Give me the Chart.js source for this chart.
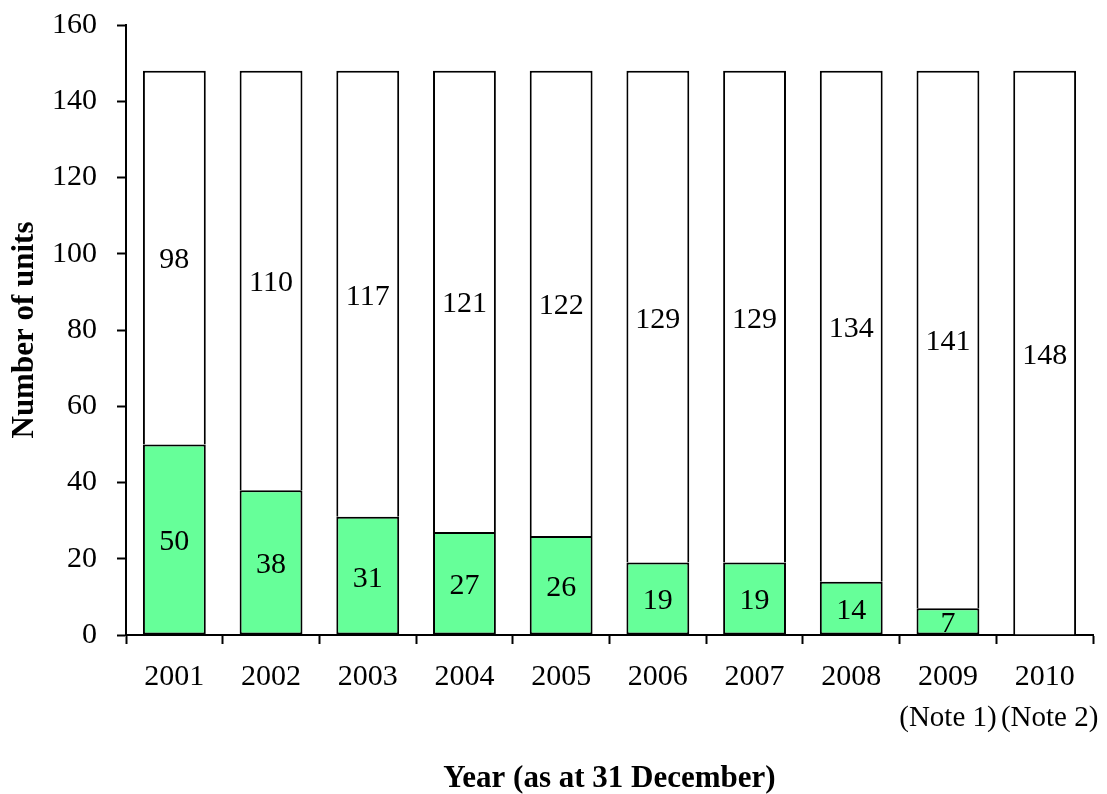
<!DOCTYPE html>
<html>
<head>
<meta charset="utf-8">
<script src="https://cdn.jsdelivr.net/npm/chart.js@4/dist/chart.umd.min.js"></script>
<style>
  html, body { margin: 0; padding: 0; background: #fff; }
  #wrap { width: 1107px; height: 794px; }
</style>
</head>
<body>
<div id="wrap"><canvas id="chart" width="1107" height="794"></canvas></div>
<script>
// years along the bottom, notes go on a second line
const years = ["2001", "2002", "2003", "2004", "2005", "2006", "2007", "2008", "2009", "2010"];
const notes = ["", "", "", "", "", "", "", "", "(Note 1)", "(Note 2)"];
// green (lower) and white (upper) parts of each bar
const greenUnits = [50, 38, 31, 27, 26, 19, 19, 14, 7, 0];
const whiteUnits = [98, 110, 117, 121, 122, 129, 129, 134, 141, 148];
const yTicks = [0, 20, 40, 60, 80, 100, 120, 140, 160];

const serif = "'Liberation Serif', 'Times New Roman', serif";

// numbers in the middle of every segment
const segmentLabels = {
  id: "segmentLabels",
  afterDatasetsDraw(chart) {
    const ctx = chart.ctx;
    ctx.save();
    ctx.font = "30px " + serif;
    ctx.fillStyle = "#000";
    ctx.textAlign = "center";
    ctx.textBaseline = "middle";
    chart.data.datasets.forEach((ds, i) => {
      const meta = chart.getDatasetMeta(i);
      meta.data.forEach((bar, j) => {
        const v = ds.data[j];
        if (!v) return;
        const p = bar.getProps(["x", "y", "base"], true);
        ctx.fillText(String(v), p.x, (p.y + p.base) / 2 + 3);
      });
    });
    ctx.restore();
  }
};

// the "(Note n)" line under a year, a bit smaller than the year itself
const yearNotes = {
  id: "yearNotes",
  afterDraw(chart) {
    const ctx = chart.ctx;
    const xs = chart.scales.x;
    ctx.save();
    ctx.font = "29px " + serif;
    ctx.fillStyle = "#000";
    ctx.textAlign = "center";
    ctx.textBaseline = "middle";
    notes.forEach((n, i) => {
      if (!n) return;
      ctx.fillText(n, xs.getPixelForValue(i) + (i === notes.length - 1 ? 5 : 0), 718);
    });
    ctx.restore();
  }
};

new Chart(document.getElementById("chart"), {
  type: "bar",
  data: {
    labels: years,
    datasets: [
      {
        label: "green",
        data: greenUnits,
        backgroundColor: "#66FF99",
        borderColor: "#000",
        borderWidth: (c) => (c.raw ? 2 : 0),
        borderSkipped: false,
        barPercentage: 0.65,
        categoryPercentage: 1
      },
      {
        label: "white",
        data: whiteUnits,
        backgroundColor: "#fff",
        borderColor: "#000",
        borderWidth: 2,
        borderSkipped: "bottom",
        barPercentage: 0.65,
        categoryPercentage: 1
      }
    ]
  },
  options: {
    responsive: false,
    animation: false,
    layout: { padding: { top: 25, right: 14, bottom: 0, left: 0 } },
    plugins: {
      legend: { display: false },
      tooltip: { enabled: false }
    },
    scales: {
      x: {
        stacked: true,
        grid: {
          offset: true,
          drawOnChartArea: false,
          drawTicks: true,
          tickLength: 9,
          tickWidth: 2,
          tickColor: "#000"
        },
        border: { color: "#000", width: 2 },
        ticks: {
          color: "#000",
          padding: 14,
          maxRotation: 0,
          autoSkip: false,
          font: { family: serif, size: 30, lineHeight: 1.3 }
        },
        title: {
          display: true,
          text: "Year (as at 31 December)",
          color: "#000",
          padding: { top: 0, bottom: 0 },
          font: { family: serif, size: 31, weight: "bold", lineHeight: 1 }
        },
        afterFit(scale) { scale.height = 159; }
      },
      y: {
        stacked: true,
        min: 0,
        max: 160,
        afterBuildTicks(scale) { scale.ticks = yTicks.map(v => ({ value: v })); },
        grid: {
          drawOnChartArea: false,
          drawTicks: true,
          tickLength: 9,
          tickWidth: 2,
          tickColor: "#000"
        },
        border: { color: "#000", width: 2 },
        ticks: {
          color: "#000",
          padding: 20,
          font: { family: serif, size: 30 }
        },
        title: {
          display: true,
          text: "Number of units",
          color: "#000",
          padding: { top: 9, bottom: 0 },
          font: { family: serif, size: 31, weight: "bold", lineHeight: 1 }
        },
        afterFit(scale) {
          scale.width = 126;
          // keep the tick padding from pushing the plot down
          scale.paddingTop = 0;
          scale.paddingBottom = 0;
        }
      }
    }
  },
  plugins: [segmentLabels, yearNotes]
});
</script>
</body>
</html>
